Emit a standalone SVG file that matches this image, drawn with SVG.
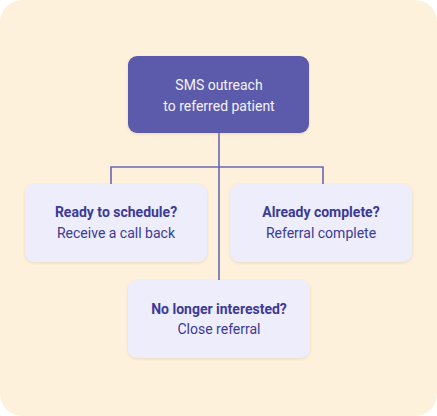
<svg xmlns="http://www.w3.org/2000/svg" width="437" height="416" viewBox="0 0 437 416">
<defs>
<filter id="sh" x="-10%" y="-10%" width="120%" height="130%">
<feDropShadow dx="0" dy="1" stdDeviation="1.5" flood-color="#b8a888" flood-opacity="0.35"/>
</filter>
<style>
.t{font-family:Roboto,"Liberation Sans",sans-serif;font-size:14px;text-anchor:middle;fill:#3b3a96}
.b{font-weight:700}
.w{fill:#f4f3ff}
.n{fill:#eeedfc;filter:url(#sh)}
.c{stroke:#6a68b0;stroke-width:1.6;fill:none}
</style>
</defs>
<rect x="0" y="0" width="437" height="416" rx="22" fill="#fef1dc"/>
<g id="connectors">
<path class="c" d="M219 133 V280"/>
<path class="c" d="M111 184 V167 H323 V184"/>
</g>
<g id="sms">
<rect x="128" y="56" width="181" height="77" rx="9" fill="#5b5aab" filter="url(#sh)"/>
<text class="t w" x="219" y="90">SMS outreach</text>
<text class="t w" x="219" y="111">to referred patient</text>
</g>
<g id="ready">
<rect class="n" x="25" y="184" width="182" height="78" rx="9"/>
<text class="t b" x="116" y="217">Ready to schedule?</text>
<text class="t" x="116" y="238">Receive a call back</text>
</g>
<g id="complete">
<rect class="n" x="230" y="184" width="182" height="78" rx="9"/>
<text class="t b" x="321" y="217">Already complete?</text>
<text class="t" x="321" y="238">Referral complete</text>
</g>
<g id="nolonger">
<rect class="n" x="128" y="280" width="182" height="78" rx="9"/>
<text class="t b" x="219" y="314">No longer interested?</text>
<text class="t" x="219" y="334">Close referral</text>
</g>
</svg>
